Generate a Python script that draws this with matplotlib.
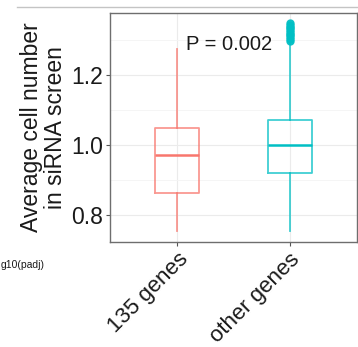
import matplotlib
matplotlib.use("Agg")
import matplotlib.pyplot as plt
from matplotlib.lines import Line2D

# data
groups = ["135 genes", "other genes"]
q1 = [0.863, 0.920]
med = [0.971, 1.001]
q3 = [1.049, 1.071]
whislo = [0.754, 0.754]
whishi = [1.274, 1.292]
outliers = [[], [1.298, 1.303, 1.308, 1.313, 1.318, 1.323, 1.328, 1.333, 1.338, 1.343, 1.348]]
colors = ["#F8766D", "#00BFC4"]
pval_text = "P = 0.002"

plt.rcParams['font.family'] = ['Liberation Sans', 'DejaVu Sans']

W, H = 358, 347
fig = plt.figure(figsize=(W / 100, H / 100), dpi=100)
ax = fig.add_axes([110 / W, 1 - 242 / H, (357 - 110) / W, (242 - 13) / H])

stats = []
for i in range(len(groups)):
    stats.append(dict(label=groups[i], q1=q1[i], med=med[i], q3=q3[i],
                      whislo=whislo[i], whishi=whishi[i], fliers=outliers[i]))

for i, s in enumerate(stats):
    c = colors[i]
    ax.bxp([s], positions=[i + 1], widths=0.39, showcaps=False,
           boxprops=dict(color=c, linewidth=1.3, alpha=0.75),
           whiskerprops=dict(color=c, linewidth=1.3, alpha=0.75),
           medianprops=dict(color=c, linewidth=1.8),
           flierprops=dict(marker='o', markerfacecolor=c, markeredgecolor=c,
                           markersize=5, alpha=0.9))

ax.set_xlim(0.4, 2.6)
ax.set_ylim(0.723, 1.377)
ax.set_yticks([0.8, 1.0, 1.2])
ax.set_yticklabels(["0.8", "1.0", "1.2"])
ax.set_yticks([0.9, 1.1, 1.3], minor=True)
ax.set_xticks([1, 2])
ax.set_xticklabels(groups, rotation=45, ha='right', va='top',
                   rotation_mode='anchor', fontsize=16, color='#1a1a1a')
ax.tick_params(axis='y', labelsize=16.5, labelcolor='#1a1a1a')
ax.tick_params(axis='both', which='major', length=3, width=0.8, color='#555555', pad=2)
ax.tick_params(axis='y', which='minor', length=0)
ax.grid(True, which='major', color='#ebebeb', linewidth=0.8)
ax.grid(True, which='minor', axis='y', color='#f4f4f4', linewidth=0.6)
ax.set_axisbelow(True)
for sp in ax.spines.values():
    sp.set_color('#6e6e6e')
    sp.set_linewidth(1.0)

ax.set_ylabel("Average cell number\nin siRNA screen", fontsize=16.5,
              color='#1a1a1a', linespacing=1.05, labelpad=3)

ax.text(1.46, 1.286, pval_text, fontsize=14.5, ha='center', va='center', color='#1a1a1a')

# remnants of the neighbouring panel, cut by the crop
fig.text(1 / W, 1 - 265 / H, "g10(padj)", ha='left', va='center',
         fontsize=7.5, color='#1a1a1a')
fig.add_artist(Line2D([17 / W, 1.0], [1 - 7 / H, 1 - 7 / H],
                      transform=fig.transFigure, color='#c4c4c4', linewidth=1.0))

fig.savefig("out.png", dpi=100)
